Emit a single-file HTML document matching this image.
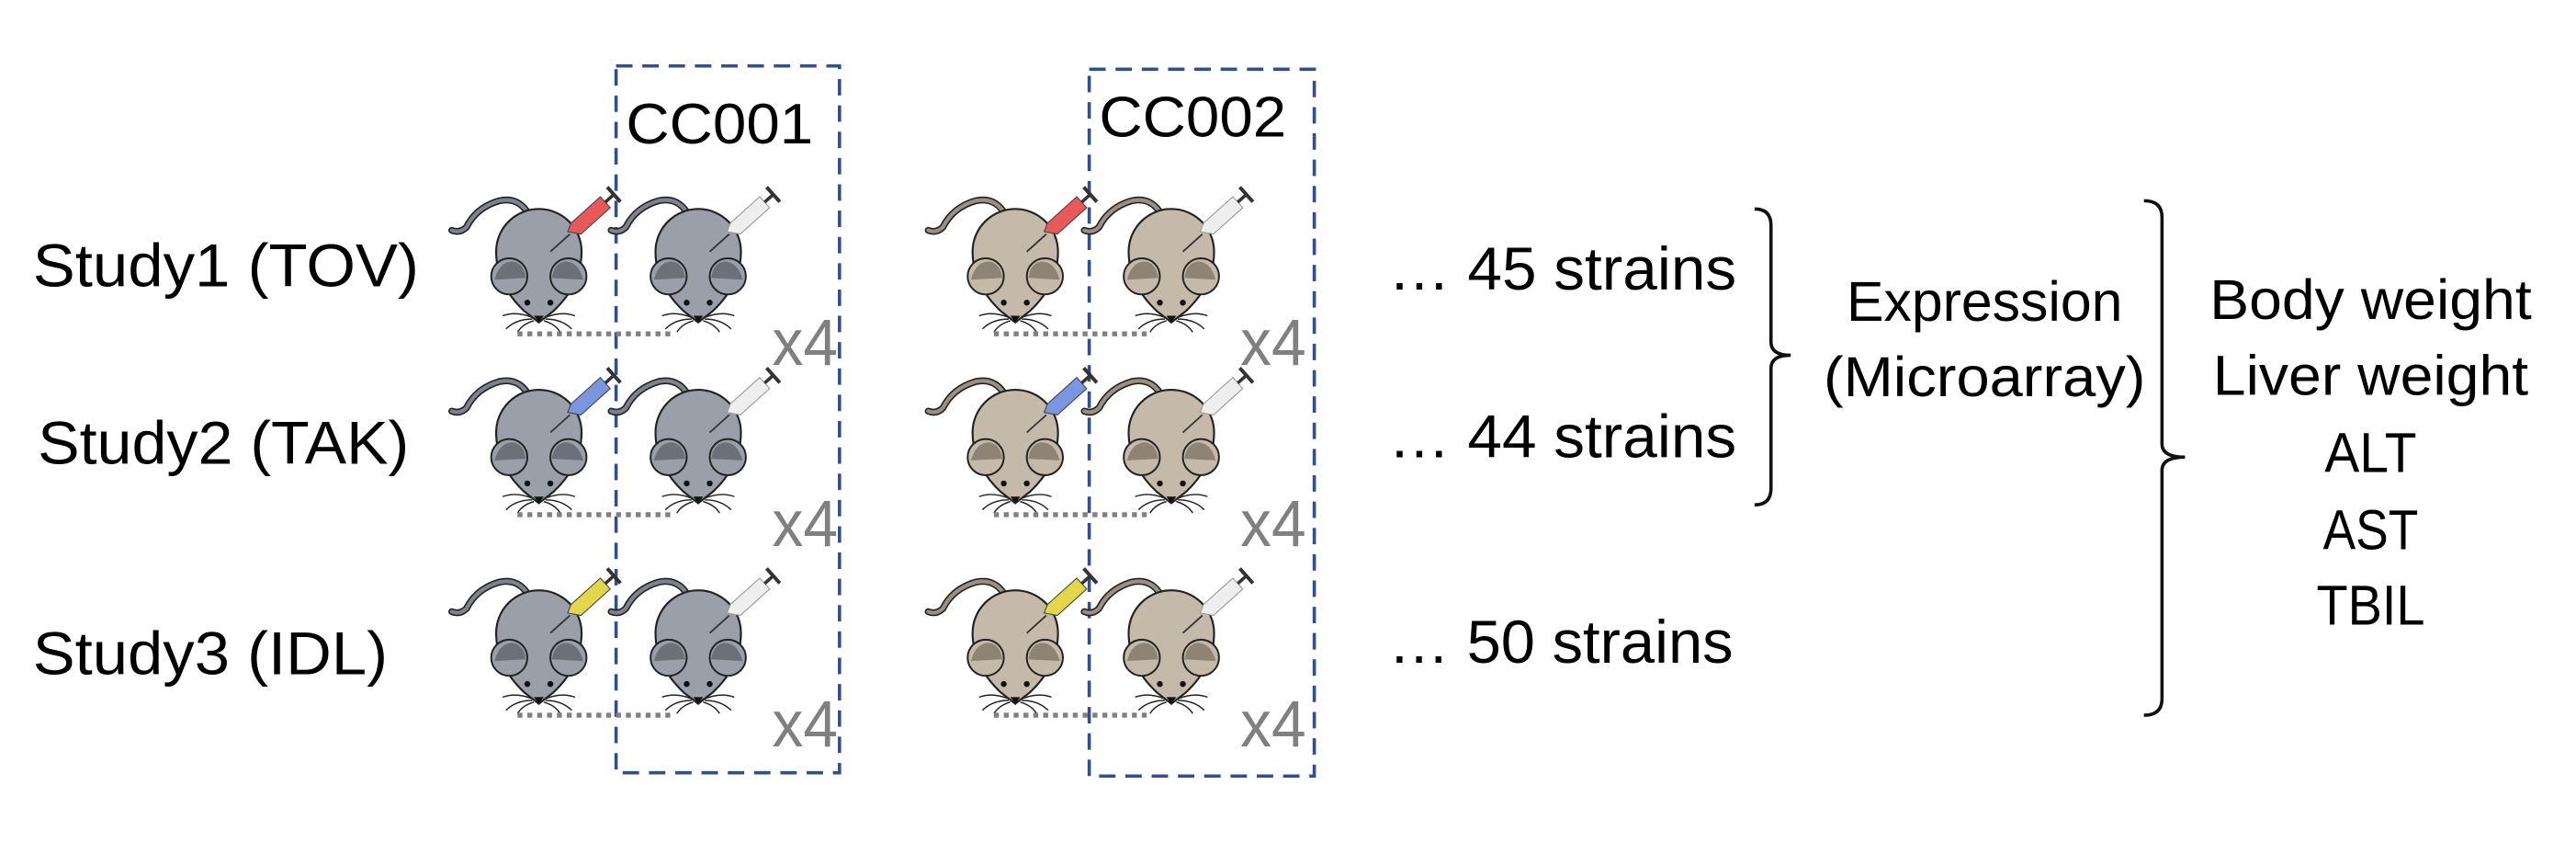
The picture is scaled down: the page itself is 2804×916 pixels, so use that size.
<!DOCTYPE html>
<html><head><meta charset="utf-8"><style>
html,body{margin:0;padding:0;background:#fff;}
svg{display:block;}
text{font-family:"Liberation Sans",sans-serif;}
</style></head><body>
<svg width="2804" height="916" viewBox="0 0 1568 512" xmlns="http://www.w3.org/2000/svg">
<defs>
<g id="mouse-grey">
  <path d="M-4,-18 Q-10,-34 -24,-31 Q-38,-27 -44,-15 Q-48,-11 -53,-13" fill="none" stroke="#222" stroke-width="4.2" stroke-linecap="round"/>
  <path d="M-4,-18 Q-10,-34 -24,-31 Q-38,-27 -44,-15 Q-48,-11 -53,-13" fill="none" stroke="#7d828c" stroke-width="2.4" stroke-linecap="round"/>
  <path d="M-26,0 A26,26 0 0 1 26,0 Q26,20 9,36 L0,43 L-9,36 Q-26,20 -26,0 Z" fill="#9a9fa9" stroke="#222" stroke-width="1.2"/>
  <circle cx="-18" cy="15" r="11" fill="#9a9fa9" stroke="#222" stroke-width="1.1"/>
  <circle cx="18" cy="15" r="11" fill="#9a9fa9" stroke="#222" stroke-width="1.1"/>
  <path d="M-27,17 Q-24,6 -16,6 Q-9,7 -8,16" fill="#6c7079"/>
  <path d="M27,17 Q24,6 16,6 Q9,7 8,16" fill="#6c7079"/>
  <circle cx="-7" cy="31" r="1.8" fill="#111"/><circle cx="7" cy="31" r="1.8" fill="#111"/>
  <path d="M-3,39 L3,39 L0,43 Z" fill="#111"/>
  <path d="M-4,40 Q-14,36 -22,39 M-4,41 Q-14,41 -20,47 M-3,42 Q-10,44 -13,49 M4,40 Q14,36 22,39 M4,41 Q14,41 20,47 M3,42 Q10,44 13,49" fill="none" stroke="#222" stroke-width="0.8"/>
</g>
<g id="mouse-brown">
  <path d="M-4,-18 Q-10,-34 -24,-31 Q-38,-27 -44,-15 Q-48,-11 -53,-13" fill="none" stroke="#222" stroke-width="4.2" stroke-linecap="round"/>
  <path d="M-4,-18 Q-10,-34 -24,-31 Q-38,-27 -44,-15 Q-48,-11 -53,-13" fill="none" stroke="#9a8f81" stroke-width="2.4" stroke-linecap="round"/>
  <path d="M-26,0 A26,26 0 0 1 26,0 Q26,20 9,36 L0,43 L-9,36 Q-26,20 -26,0 Z" fill="#c5b9a9" stroke="#222" stroke-width="1.2"/>
  <circle cx="-18" cy="15" r="11" fill="#c5b9a9" stroke="#222" stroke-width="1.1"/>
  <circle cx="18" cy="15" r="11" fill="#c5b9a9" stroke="#222" stroke-width="1.1"/>
  <path d="M-27,17 Q-24,6 -16,6 Q-9,7 -8,16" fill="#8e8374"/>
  <path d="M27,17 Q24,6 16,6 Q9,7 8,16" fill="#8e8374"/>
  <circle cx="-7" cy="31" r="1.8" fill="#111"/><circle cx="7" cy="31" r="1.8" fill="#111"/>
  <path d="M-3,39 L3,39 L0,43 Z" fill="#111"/>
  <path d="M-4,40 Q-14,36 -22,39 M-4,41 Q-14,41 -20,47 M-3,42 Q-10,44 -13,49 M4,40 Q14,36 22,39 M4,41 Q14,41 20,47 M3,42 Q10,44 13,49" fill="none" stroke="#222" stroke-width="0.8"/>
</g>
</defs>

<rect x="375" y="40" width="136" height="430" fill="none" stroke="#2f4f8f" stroke-width="2" stroke-dasharray="10 6"/>
<rect x="663" y="42" width="137" height="430" fill="none" stroke="#2f4f8f" stroke-width="2" stroke-dasharray="10 6"/>
<text x="381" y="87" font-size="35" textLength="114" lengthAdjust="spacingAndGlyphs">CC001</text>
<text x="669" y="83" font-size="35" textLength="114" lengthAdjust="spacingAndGlyphs">CC002</text>

<text x="20" y="174" font-size="37" textLength="235" lengthAdjust="spacingAndGlyphs">Study1 (TOV)</text>
<text x="23" y="282" font-size="37" textLength="226" lengthAdjust="spacingAndGlyphs">Study2 (TAK)</text>
<text x="20" y="410" font-size="37" textLength="216" lengthAdjust="spacingAndGlyphs">Study3 (IDL)</text>

<g id="rows"></g>

<text x="845" y="176" font-size="37" textLength="212" lengthAdjust="spacingAndGlyphs">… 45 strains</text>
<text x="845" y="278" font-size="37" textLength="212" lengthAdjust="spacingAndGlyphs">… 44 strains</text>
<text x="845" y="403" font-size="37" textLength="210" lengthAdjust="spacingAndGlyphs">… 50 strains</text>

<path d="M1068,127 Q1078,127 1078,137 L1078,208 Q1078,216 1090,216 Q1078,216 1078,224 L1078,297 Q1078,307 1068,307" fill="none" stroke="#111" stroke-width="2"/>
<path d="M1305,122 Q1316,122 1316,132 L1316,270 Q1316,278 1330,278 Q1316,278 1316,286 L1316,425 Q1316,435 1305,435" fill="none" stroke="#111" stroke-width="2"/>

<text x="1208" y="195" font-size="34" text-anchor="middle" textLength="168" lengthAdjust="spacingAndGlyphs">Expression</text>
<text x="1208" y="241" font-size="34" text-anchor="middle" textLength="196" lengthAdjust="spacingAndGlyphs">(Microarray)</text>

<text x="1443" y="194" font-size="34" text-anchor="middle" textLength="196" lengthAdjust="spacingAndGlyphs">Body weight</text>
<text x="1443" y="240" font-size="34" text-anchor="middle" textLength="192" lengthAdjust="spacingAndGlyphs">Liver weight</text>
<text x="1443" y="287" font-size="34" text-anchor="middle" textLength="56" lengthAdjust="spacingAndGlyphs">ALT</text>
<text x="1443" y="334" font-size="34" text-anchor="middle" textLength="58" lengthAdjust="spacingAndGlyphs">AST</text>
<text x="1443" y="380" font-size="34" text-anchor="middle" textLength="66" lengthAdjust="spacingAndGlyphs">TBIL</text>
</svg>
<script>
const rowOffsets=[0,110,232];
const drugColors=['#e8595a','#7b96e0','#e2d64a'];
const ns='http://www.w3.org/2000/svg';
const rows=document.getElementById('rows');
function syringe(g,x,y,color){
  const s=document.createElementNS(ns,'g');
  s.setAttribute('transform','translate('+x+','+y+') rotate(-42)');
  s.innerHTML='<line x1="0" y1="0" x2="16" y2="0" stroke="#333" stroke-width="1"/>'+
  '<path d="M16,-2 L21,-4.5 L45,-4.5 L45,4.5 L21,4.5 Z" fill="'+color+'" stroke="'+(color==='#eeeeee'?'#999':'#444')+'" stroke-width="0.6"/>'+
  '<line x1="45" y1="0" x2="52" y2="0" stroke="#333" stroke-width="2"/>'+
  '<line x1="52" y1="-6" x2="52" y2="6" stroke="#333" stroke-width="2.2"/>';
  g.appendChild(s);
}
const mouseX=[328,425,618,713];
rowOffsets.forEach((dy,r)=>{
  const g=document.createElementNS(ns,'g');
  
  
  mouseX.forEach((mx,i)=>{
    const u=document.createElementNS(ns,'use');
    u.setAttribute('href',i<2?'#mouse-grey':'#mouse-brown');
    u.setAttribute('x',mx);u.setAttribute('y',153+dy);
    
    
    g.appendChild(u);
    syringe(g,mx+7,153+dy,i%2===0?drugColors[r]:'#eeeeee');
  });
  [[315,410],[605,700]].forEach(([a,b])=>{
    const l=document.createElementNS(ns,'line');
    l.setAttribute('x1',a);l.setAttribute('x2',b);
    l.setAttribute('y1',203+dy);l.setAttribute('y2',203+dy);
    l.setAttribute('stroke','#808080');l.setAttribute('stroke-width','3');
    l.setAttribute('stroke-dasharray','3 3');
    
    
    g.appendChild(l);
  });
  [470,755].forEach(x=>{
    const t=document.createElementNS(ns,'text');
    t.setAttribute('x',x);t.setAttribute('y',222+dy);
    t.setAttribute('font-size','40');t.setAttribute('fill','#808080');
    t.setAttribute('textLength','40');t.setAttribute('lengthAdjust','spacingAndGlyphs');
    t.textContent='x4';
    
    
    g.appendChild(t);
  });
  rows.appendChild(g);
});
</script>
</body></html>
